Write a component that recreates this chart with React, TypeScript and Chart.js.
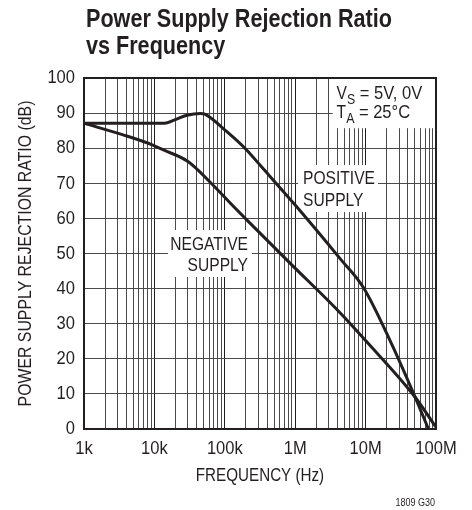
import { useEffect, useRef } from 'react';
import { Chart, registerables } from 'chart.js';

Chart.register(...registerables);

// ---- Text ----
const TITLE_LINES = ['Power Supply Rejection Ratio', 'vs Frequency'];
const X_TITLE = 'FREQUENCY (Hz)';
const Y_TITLE = 'POWER SUPPLY REJECTION RATIO (dB)';
const FOOTNOTE = '1809 G30';

// ---- Axes ----
const X_MIN = 1e3;
const X_MAX = 1e8;
const X_TICK_VALUES = [1e3, 1e4, 1e5, 1e6, 1e7, 1e8];
const X_TICK_LABELS = ['1k', '10k', '100k', '1M', '10M', '100M'];
const X_MINOR_MULTIPLIERS = [2, 3, 4, 5, 6, 7, 8, 9];
const Y_MIN = 0;
const Y_MAX = 100;
const Y_STEP = 10;
const Y_TICK_VALUES = [0, 10, 20, 30, 40, 50, 60, 70, 80, 90, 100];
const Y_TICK_LABELS = ['0', '10', '20', '30', '40', '50', '60', '70', '80', '90', '100'];

// ---- Series ----
const POS_FREQ = [1e3, 1e4, 1.4e4, 1.9e4, 2.9e4, 4.5e4, 5.2e4, 1.07e5, 2.04e5, 3.16e5, 1e6, 4.4e6, 9.3e6, 2.2e7, 5e7, 7.8e7];
const POS_DB = [87.1, 87.1, 87.1, 88.0, 89.4, 89.9, 89.7, 84.7, 79.5, 75.2, 63.8, 48.4, 40.3, 25.4, 9.3, 0];

const NEG_FREQ = [1e3, 3.6e3, 9.5e3, 1.35e4, 3e4, 6.2e4, 1.3e5, 2e5, 8.5e5, 4.4e6, 1e7, 5e7, 1e8];
const NEG_DB = [87.1, 83.8, 80.9, 79.5, 76.2, 70.3, 63.6, 59.8, 47.2, 33, 25.2, 9.2, 0.5];

// ---- Annotations (box corners in data units) ----
const COND_LINES = [
  { main: 'V', sub: 'S', rest: ' = 5V, 0V' },
  { main: 'T', sub: 'A', rest: ' = 25°C' },
];
const COND_BOX = { f1: 3.4e6, f2: 1e8, db1: 100, db2: 85.7 };
const POS_LABEL = ['POSITIVE', 'SUPPLY'];
const POS_BOX = { f1: 1.1e6, f2: 1.5e7, db1: 75.2, db2: 61.8 };
const NEG_LABEL = ['NEGATIVE', 'SUPPLY'];
const NEG_BOX = { f1: 1.56e4, f2: 2.43e5, db1: 56.7, db2: 43.3 };

const FF = "'Liberation Sans', Arial, sans-serif";
const INK = '#231f20';
const NARROW = 0.82;
const DIGIT_NARROW = 0.87;

function drawText(
  ctx: CanvasRenderingContext2D,
  text: string,
  x: number,
  y: number,
  font: string,
  sx: number,
  align: CanvasTextAlign,
  baseline: CanvasTextBaseline
) {
  ctx.save();
  ctx.font = font;
  ctx.textAlign = align;
  ctx.textBaseline = baseline;
  ctx.translate(x, y);
  ctx.scale(sx, 1);
  ctx.fillText(text, 0, 0);
  ctx.restore();
}

function textW(ctx: CanvasRenderingContext2D, text: string, font: string, sx: number) {
  ctx.save();
  ctx.font = font;
  const w = ctx.measureText(text).width * sx;
  ctx.restore();
  return w;
}

export default function App() {
  const ref = useRef<HTMLCanvasElement>(null);

  useEffect(() => {
    const canvas = ref.current;
    if (!canvas) return;

    const isDecade = (v: number) => {
      const l = Math.log10(v);
      return Math.abs(l - Math.round(l)) < 1e-9;
    };

    const boxPx = (chart: any, b: any) => {
      const { x, y } = chart.scales;
      const a = chart.chartArea;
      const l = Math.max(a.left, x.getPixelForValue(b.f1));
      const r = Math.min(a.right - 1, x.getPixelForValue(b.f2));
      const t = Math.max(a.top + 1, y.getPixelForValue(b.db1));
      const bt = y.getPixelForValue(b.db2);
      return { l, r, t, b: bt };
    };

    const overlay = {
      id: 'overlay',
      beforeDatasetsDraw(chart: any) {
        const ctx = chart.ctx as CanvasRenderingContext2D;
        ctx.save();
        const cb = boxPx(chart, COND_BOX);
        const pb = boxPx(chart, POS_BOX);
        const nb = boxPx(chart, NEG_BOX);
        ctx.fillStyle = '#ffffff';
        [cb, pb, nb].forEach((b) => ctx.fillRect(b.l, b.t, b.r - b.l, b.b - b.t));

        ctx.fillStyle = INK;
        const big = `19px ${FF}`;
        const small = `15px ${FF}`;
        COND_LINES.forEach((ln, i) => {
          let xx = cb.l + 4;
          const yy = cb.t + 20 + i * 19;
          drawText(ctx, ln.main, xx, yy, big, NARROW, 'left', 'alphabetic');
          xx += textW(ctx, ln.main, big, NARROW);
          drawText(ctx, ln.sub, xx, yy + 5, small, NARROW, 'left', 'alphabetic');
          xx += textW(ctx, ln.sub, small, NARROW);
          drawText(ctx, ln.rest, xx, yy, big, DIGIT_NARROW, 'left', 'alphabetic');
        });
        POS_LABEL.forEach((s, i) =>
          drawText(ctx, s, pb.l + 5, pb.t + 19 + i * 21.5, big, NARROW, 'left', 'alphabetic')
        );
        NEG_LABEL.forEach((s, i) =>
          drawText(ctx, s, nb.r - 4, nb.t + 20 + i * 21.5, big, NARROW, 'right', 'alphabetic')
        );
        ctx.restore();
      },
      afterDatasetsDraw(chart: any) {
        const ctx = chart.ctx as CanvasRenderingContext2D;
        const a = chart.chartArea;
        ctx.save();
        ctx.strokeStyle = INK;
        ctx.lineWidth = 2;
        ctx.strokeRect(a.left, a.top, a.right - a.left, a.bottom - a.top);
        ctx.restore();
      },
      afterDraw(chart: any) {
        const ctx = chart.ctx as CanvasRenderingContext2D;
        const a = chart.chartArea;
        const { x, y } = chart.scales;
        ctx.save();
        ctx.fillStyle = INK;

        // title
        const tf = `bold 26px ${FF}`;
        const raw = textW(ctx, TITLE_LINES[0], tf, 1);
        const tsx = Math.min(1, 306 / raw);
        TITLE_LINES.forEach((s, i) => drawText(ctx, s, 86, 27 + i * 27, tf, tsx, 'left', 'alphabetic'));

        // tick labels
        const tick = `19px ${FF}`;
        Y_TICK_VALUES.forEach((v, i) =>
          drawText(ctx, Y_TICK_LABELS[i], a.left - 9, y.getPixelForValue(v), tick, DIGIT_NARROW, 'right', 'middle')
        );
        X_TICK_VALUES.forEach((v, i) =>
          drawText(ctx, X_TICK_LABELS[i], x.getPixelForValue(v), a.bottom + 10, tick, DIGIT_NARROW, 'center', 'top')
        );

        // axis titles
        drawText(ctx, X_TITLE, (a.left + a.right) / 2, 481, `19px ${FF}`, 0.8, 'center', 'alphabetic');
        ctx.save();
        ctx.translate(26, (a.top + a.bottom) / 2);
        ctx.rotate(-Math.PI / 2);
        drawText(ctx, Y_TITLE, 0, 0, `19px ${FF}`, 0.834, 'center', 'middle');
        ctx.restore();

        drawText(ctx, FOOTNOTE, 435, 506, `11px ${FF}`, NARROW, 'right', 'alphabetic');
        ctx.restore();
      },
    };

    const chart = new Chart(canvas, {
      type: 'line',
      data: {
        datasets: [
          {
            label: 'Positive Supply',
            data: POS_FREQ.map((f, i) => ({ x: f, y: POS_DB[i] })),
            borderColor: INK,
            borderWidth: 3,
            pointRadius: 0,
            cubicInterpolationMode: 'monotone',
            fill: false,
          },
          {
            label: 'Negative Supply',
            data: NEG_FREQ.map((f, i) => ({ x: f, y: NEG_DB[i] })),
            borderColor: INK,
            borderWidth: 3,
            pointRadius: 0,
            cubicInterpolationMode: 'monotone',
            fill: false,
          },
        ],
      },
      options: {
        responsive: false,
        maintainAspectRatio: false,
        animation: false,
        devicePixelRatio: 1,
        layout: { padding: { left: 0, right: 36, top: 78, bottom: 0 } },
        plugins: {
          legend: { display: false },
          tooltip: { enabled: false },
          title: { display: false },
        },
        scales: {
          x: {
            type: 'logarithmic',
            min: X_MIN,
            max: X_MAX,
            afterBuildTicks: (scale: any) => {
              const t: any[] = [];
              X_TICK_VALUES.forEach((d, i) => {
                t.push({ value: d });
                if (i < X_TICK_VALUES.length - 1) {
                  X_MINOR_MULTIPLIERS.forEach((m) => t.push({ value: d * m }));
                }
              });
              scale.ticks = t;
            },
            afterFit: (scale: any) => {
              scale.height = 81;
            },
            ticks: { display: false, autoSkip: false },
            grid: {
              drawTicks: false,
              lineWidth: 1,
              color: (c: any) => (c.tick && isDecade(c.tick.value) ? '#1e1e1e' : '#4a4a4a'),
            },
            border: { display: true, color: INK, width: 2 },
          },
          y: {
            type: 'linear',
            min: Y_MIN,
            max: Y_MAX,
            afterFit: (scale: any) => {
              scale.width = 84;
            },
            ticks: { display: false, stepSize: Y_STEP },
            grid: { drawTicks: false, lineWidth: 1, color: '#4a4a4a' },
            border: { display: true, color: INK, width: 2 },
          },
        },
      },
      plugins: [overlay],
    } as any);

    return () => chart.destroy();
  }, []);

  return (
    <div style={{ position: 'fixed', left: 0, top: 0, width: 472, height: 510, background: '#fff' }}>
      <canvas ref={ref} width={472} height={510} style={{ display: 'block', width: 472, height: 510 }} />
    </div>
  );
}
